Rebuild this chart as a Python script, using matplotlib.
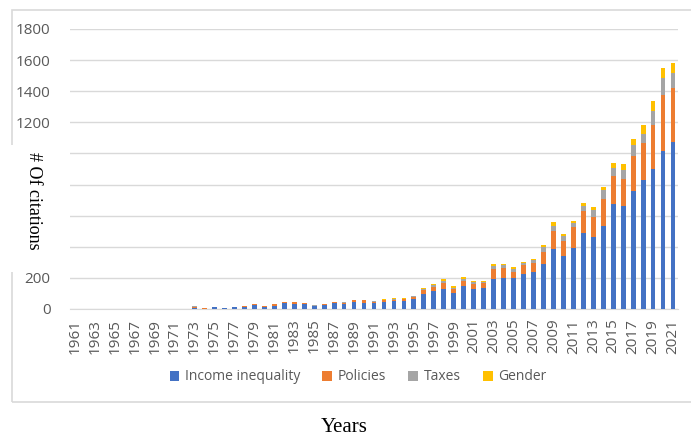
import matplotlib.pyplot as plt
from matplotlib.patches import Rectangle

years = list(range(1961, 2022))

# values (1961 .. 2021)
income = [0] * 11 + [1, 9, 2, 10, 5, 10, 13, 24, 13, 22, 37, 34, 30, 17, 26, 37, 30, 45, 41,
                     37, 47, 52, 49, 62, 96, 116, 131, 103, 148, 127, 137, 195, 201, 197, 227,
                     240, 291, 386, 339, 392, 489, 463, 532, 676, 659, 761, 828, 897, 1015, 1073]
policies = [0] * 11 + [1, 6, 2, 1, 1, 1, 6, 8, 6, 7, 6, 8, 8, 4, 5, 5, 6, 12, 14,
                       10, 10, 9, 15, 15, 26, 25, 34, 26, 34, 32, 30, 62, 65, 43, 56,
                       56, 78, 113, 100, 133, 141, 129, 178, 178, 178, 221, 238, 283, 360, 349]
taxes = [0] * 11 + [0, 2, 0, 0, 0, 0, 1, 1, 1, 1, 2, 2, 1, 2, 2, 3, 6, 1, 2,
                    2, 3, 3, 3, 4, 9, 11, 15, 8, 13, 13, 9, 22, 15, 19, 11,
                    17, 27, 37, 28, 28, 30, 47, 54, 53, 55, 73, 62, 90, 107, 97]
gender = [0] * 11 + [0, 1, 0, 0, 0, 0, 0, 1, 0, 1, 1, 2, 1, 1, 1, 1, 1, 2, 2,
                     3, 3, 4, 3, 5, 6, 9, 15, 9, 11, 6, 6, 12, 10, 11, 6,
                     8, 18, 23, 15, 15, 19, 19, 23, 30, 39, 41, 52, 64, 65, 62]

series = ['Income inequality', 'Policies', 'Taxes', 'Gender']
colors = ['#4472C4', '#ED7D31', '#A5A5A5', '#FFC000']
tick_color = '#595959'
grid_color = '#D9D9D9'
yticks = list(range(0, 1801, 200))
# the labels 400-1000 are hidden behind the axis title in the reference
ytick_labels = ['0', '200', '', '', '', '', '1200', '1400', '1600', '1800']

fig = plt.figure(figsize=(6.91, 4.37), dpi=100)
ax = fig.add_axes([70 / 691, 1 - 309 / 437, 608 / 691, 280 / 437])

x = list(range(len(years)))
bottom = [0] * len(years)
for name, vals, col in zip(series, [income, policies, taxes, gender], colors):
    ax.bar(x, vals, 0.48, bottom=bottom, color=col, label=name, zorder=3)
    bottom = [b + v for b, v in zip(bottom, vals)]

ax.set_xlim(-0.5, len(years) - 0.5)
ax.set_ylim(0, 1800)
ax.set_yticks(yticks)
ax.set_yticklabels(ytick_labels)
ax.set_xticks(x[::2])
ax.set_xticklabels([str(y) for y in years[::2]], rotation=90)
ax.tick_params(axis='both', length=0, labelcolor=tick_color)
ax.tick_params(axis='y', pad=14)
ax.tick_params(axis='x', pad=7)
for lab in ax.get_xticklabels() + ax.get_yticklabels():
    lab.set_family(['Open Sans', 'DejaVu Sans'])
    lab.set_fontsize(11)

ax.grid(axis='y', color=grid_color, linewidth=1, zorder=0)
for s in ['top', 'right', 'left']:
    ax.spines[s].set_visible(False)
ax.spines['bottom'].set_color(grid_color)

# chart area border
fig.add_artist(Rectangle((12 / 691, 1 - 402 / 437), 700 / 691, 392 / 437,
                         transform=fig.transFigure, fill=False,
                         edgecolor=grid_color, linewidth=1.2, zorder=0))

leg = fig.legend(loc='center', bbox_to_anchor=(358 / 691, 1 - 377 / 437), ncol=4,
                 frameon=False, handlelength=0.7, handleheight=0.7,
                 handletextpad=0.4, columnspacing=1.6,
                 prop={'family': ['Open Sans', 'DejaVu Sans'], 'size': 10})
for t in leg.get_texts():
    t.set_color(tick_color)

# white patch over the left border, with the axis title on top
fig.add_artist(Rectangle((0, 1 - 272 / 437), 67 / 691, 127 / 437,
                         transform=fig.transFigure, facecolor='white',
                         edgecolor='none', zorder=10))
fig.text(33 / 691, 1 - 201 / 437, '# Of citations', rotation=-90, ha='center',
         va='center', family='Liberation Serif', fontsize=13, zorder=11)
fig.text(344 / 691, 1 - 428 / 437, 'Years', ha='center', va='center',
         family='Liberation Serif', fontsize=15)

fig.savefig('out.png', dpi=100)
